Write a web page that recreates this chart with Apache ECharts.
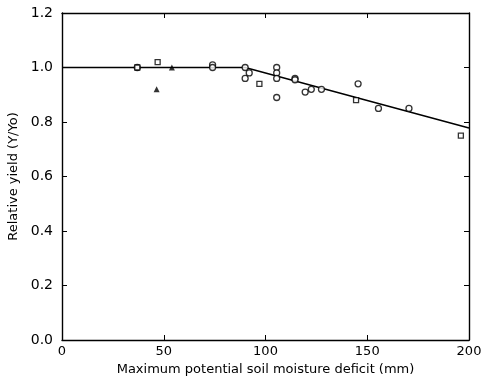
<!DOCTYPE html>
<html><head><meta charset="utf-8">
<script src="https://cdn.jsdelivr.net/npm/echarts@6/dist/echarts.min.js"></script>
<style>html,body{margin:0;padding:0;background:#fff}#c{width:487px;height:376px}</style>
</head><body><div id="c"></div>
<script>
const xTicks = [0, 50, 100, 150, 200];
const yTicks = [0.0, 0.2, 0.4, 0.6, 0.8, 1.0, 1.2];
const circles = [[37,1.0],[74,1.01],[74,1.0],[90,1.0],[90,0.96],[92,0.98],[105.5,1.0],[105.5,0.98],[105.5,0.96],[105.5,0.89],[114.5,0.96],[114.5,0.955],[119.5,0.91],[122.5,0.92],[127.5,0.92],[145.5,0.94],[155.5,0.85],[170.5,0.85]];
const squares = [[37,1.0],[47,1.02],[97,0.94],[144.5,0.88],[196,0.75]];
const triangles = [[46.5,0.92],[54,1.0]];
const fitLine = [[0,1.0],[90,1.0],[200,0.778]];
const font = '"DejaVu Sans", Verdana, sans-serif';
const chart = echarts.init(document.getElementById('c'));
const axisCommon = {
  axisLine:{show:true,onZero:false,lineStyle:{color:'#000',width:1.4}},
  axisTick:{show:true,inside:true,length:5,lineStyle:{color:'#000'}},
  splitLine:{show:false}
};
chart.setOption({
  animation:false,
  grid:{left:62,right:18,top:13,bottom:36,containLabel:false,outerBoundsMode:'none'},
  xAxis:[
    Object.assign({type:'value',min:0,max:200,interval:50,
      name:'Maximum potential soil moisture deficit (mm)',nameLocation:'middle',nameGap:20,
      nameTextStyle:{fontFamily:font,fontSize:13,color:'#000'},
      axisLabel:{fontFamily:font,fontSize:13,color:'#000',margin:5,
        formatter:v=>xTicks.includes(v)?String(v):''}},axisCommon),
    Object.assign({type:'value',min:0,max:200,interval:50,position:'top',axisLabel:{show:false}},axisCommon)
  ],
  yAxis:[
    Object.assign({type:'value',min:0,max:1.2,interval:0.2,
      name:'Relative yield (Y/Yo)',nameLocation:'middle',nameGap:33,
      nameTextStyle:{fontFamily:font,fontSize:13,color:'#000'},
      axisLabel:{fontFamily:font,fontSize:14,color:'#000',margin:9,
        formatter:v=>{const t=yTicks.find(k=>Math.abs(k-v)<1e-9);return t===undefined?'':t.toFixed(1);}}},axisCommon),
    Object.assign({type:'value',min:0,max:1.2,interval:0.2,position:'right',axisLabel:{show:false}},axisCommon)
  ],
  series:[
    {type:'line',data:fitLine,symbol:'none',lineStyle:{color:'#000',width:1.6},z:1},
    {type:'scatter',data:circles,symbol:'circle',symbolSize:6,itemStyle:{color:'#fff',borderColor:'#000',borderWidth:1.3},z:3},
    {type:'scatter',data:squares,symbol:'rect',symbolSize:5,itemStyle:{color:'#fff',borderColor:'#000',borderWidth:1.3},z:3},
    {type:'scatter',data:triangles,symbol:'triangle',symbolSize:6,itemStyle:{color:'#000'},z:3}
  ]
});
</script></body></html>
